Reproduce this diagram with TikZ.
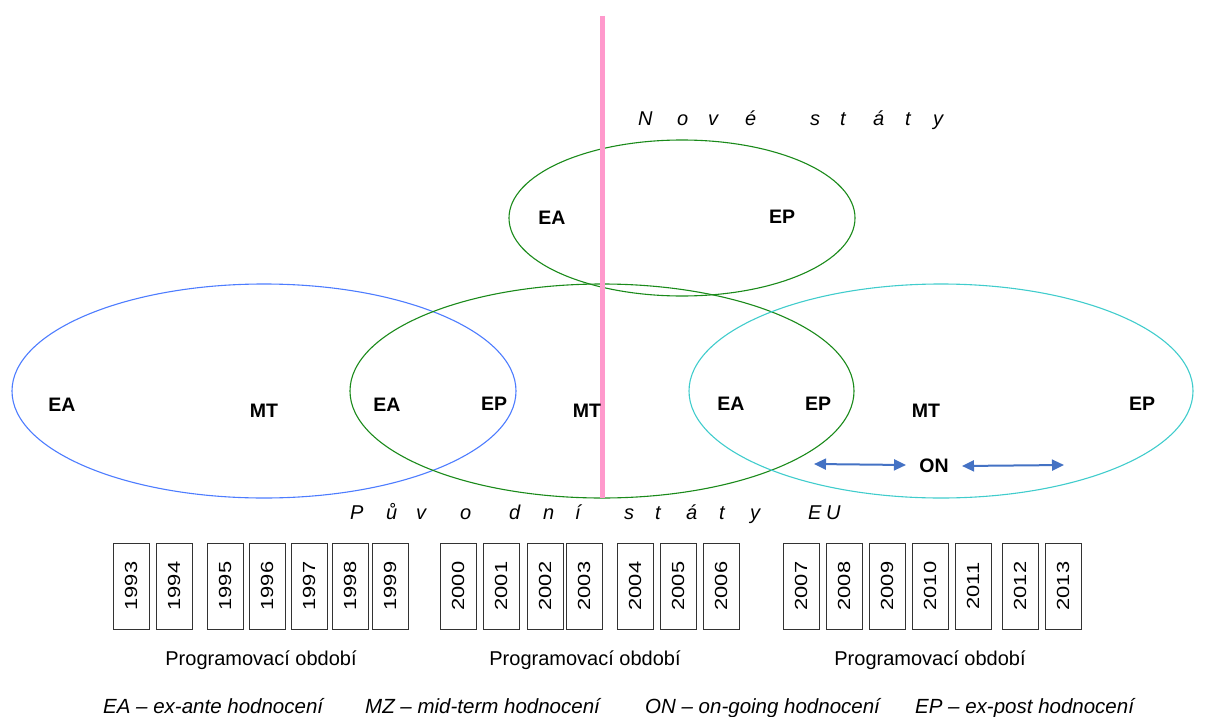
\documentclass[tikz,border=0pt]{standalone}
\usepackage{fontspec}
\setmainfont{Liberation Sans}
\usetikzlibrary{arrows.meta}
\definecolor{pinkline}{HTML}{FF99CC}
\definecolor{ellblue}{HTML}{4D7CFF}
\definecolor{ellgreen}{HTML}{1A8A1A}
\definecolor{ellcyan}{HTML}{40CCCC}
\definecolor{arrblue}{HTML}{4472C4}
\tikzset{
  ell/.style={line width=1.1pt},
  lbl/.style={font=\fontsize{19.5}{22}\selectfont\bfseries, inner sep=0pt},
  yearbox/.style={draw=black!80, line width=0.9pt, minimum width=36pt, minimum height=86pt, inner sep=0pt},
  yeartxt/.style={rotate=90, font=\fontsize{17.5}{20}\selectfont, inner sep=0pt},
  sp/.style={anchor=base west, inner sep=0pt, font=\fontsize{20}{24}\selectfont\itshape},
  prog/.style={anchor=base, inner sep=0pt, font=\fontsize{20}{24}\selectfont},
  legend/.style={anchor=base west, inner sep=0pt, font=\fontsize{20.5}{24}\selectfont\itshape},
  dbl/.style={{Triangle[length=12pt,width=11pt]}-{Triangle[length=12pt,width=11pt]}, draw=arrblue, line width=2pt},
}
\begin{document}
\begin{tikzpicture}[x=1pt,y=-1pt]
\useasboundingbox (0,0) rectangle (1215,717);
% ellipses
\draw[ell, ellblue]  (264,391) ellipse [x radius=252pt, y radius=107pt];
\draw[ell, ellgreen] (602,391) ellipse [x radius=252pt, y radius=107pt];
\draw[ell, ellcyan]  (941,391) ellipse [x radius=252pt, y radius=107pt];
\draw[ell, ellgreen] (682,218) ellipse [x radius=173pt, y radius=78pt];
% pink line
\coordinate (ptop) at (602,16);
\coordinate (pbot) at (602,498);
\draw[pinkline, line width=5pt] (ptop) -- (pbot);
% labels
\node[lbl] (ea1) at (62,405) {EA};
\node[lbl] (mt1) at (264,411) {MT};
\node[lbl] (ea2) at (387,405) {EA};
\node[lbl] (ep2) at (494,404) {EP};
\node[lbl] (mt2) at (587,411) {MT};
\node[lbl] (ea3) at (731,404) {EA};
\node[lbl] (ep3) at (818,404) {EP};
\node[lbl] (mt3) at (926,411) {MT};
\node[lbl] (ep4) at (1142,404) {EP};
\node[lbl] (eat) at (552,218) {EA};
\node[lbl] (ept) at (782,217) {EP};
\node[lbl] (on) at (934,466) {ON};
% ON arrows
\coordinate (a1l) at (814,464);
\coordinate (a1r) at (906,465);
\coordinate (a2l) at (962,466);
\coordinate (a2r) at (1064,465);
\draw[dbl] (a1l) -- (a1r);
\draw[dbl] (a2l) -- (a2r);
% spaced titles
\foreach \c/\x [count=\i] in {N/638,o/677,v/708,é/745,s/810,t/840,á/873,t/905,y/933}
  \node[sp] (nov\i) at (\x,125) {\c};
\foreach \c/\x [count=\i] in {P/350,ů/386,v/416,o/460,d/509,n/543,í/575,s/624,t/655,á/686,t/719,y/750,E/808,U/826}
  \node[sp] (puv\i) at (\x,519) {\c};
% year boxes
\foreach \yr/\x in {1993/113,1994/156,1995/207,1996/249,1997/291,1998/332,1999/372,
                   2000/440,2001/483,2002/527,2003/566,2004/617,2005/660,2006/703,
                   2007/783,2008/826,2009/869,2010/912,2011/955,2012/1002,2013/1045}{
  \node[yearbox] (b\yr) at (\x+18,586) {};
  \node[yeartxt] (t\yr) at (b\yr.center) {\scalebox{1.25}[1]{\yr}};
}
% programming periods
\node[prog] (p1) at (261,665) {Programovací období};
\node[prog] (p2) at (585,665) {Programovací období};
\node[prog] (p3) at (930,665) {Programovací období};
% legend
\node[legend] (l1) at (103,713) {EA – ex-ante hodnocení};
\node[legend] (l2) at (365,713) {MZ – mid-term hodnocení};
\node[legend] (l3) at (645,713) {ON – on-going hodnocení};
\node[legend] (l4) at (915,713) {EP – ex-post hodnocení};
\end{tikzpicture}
\end{document}
